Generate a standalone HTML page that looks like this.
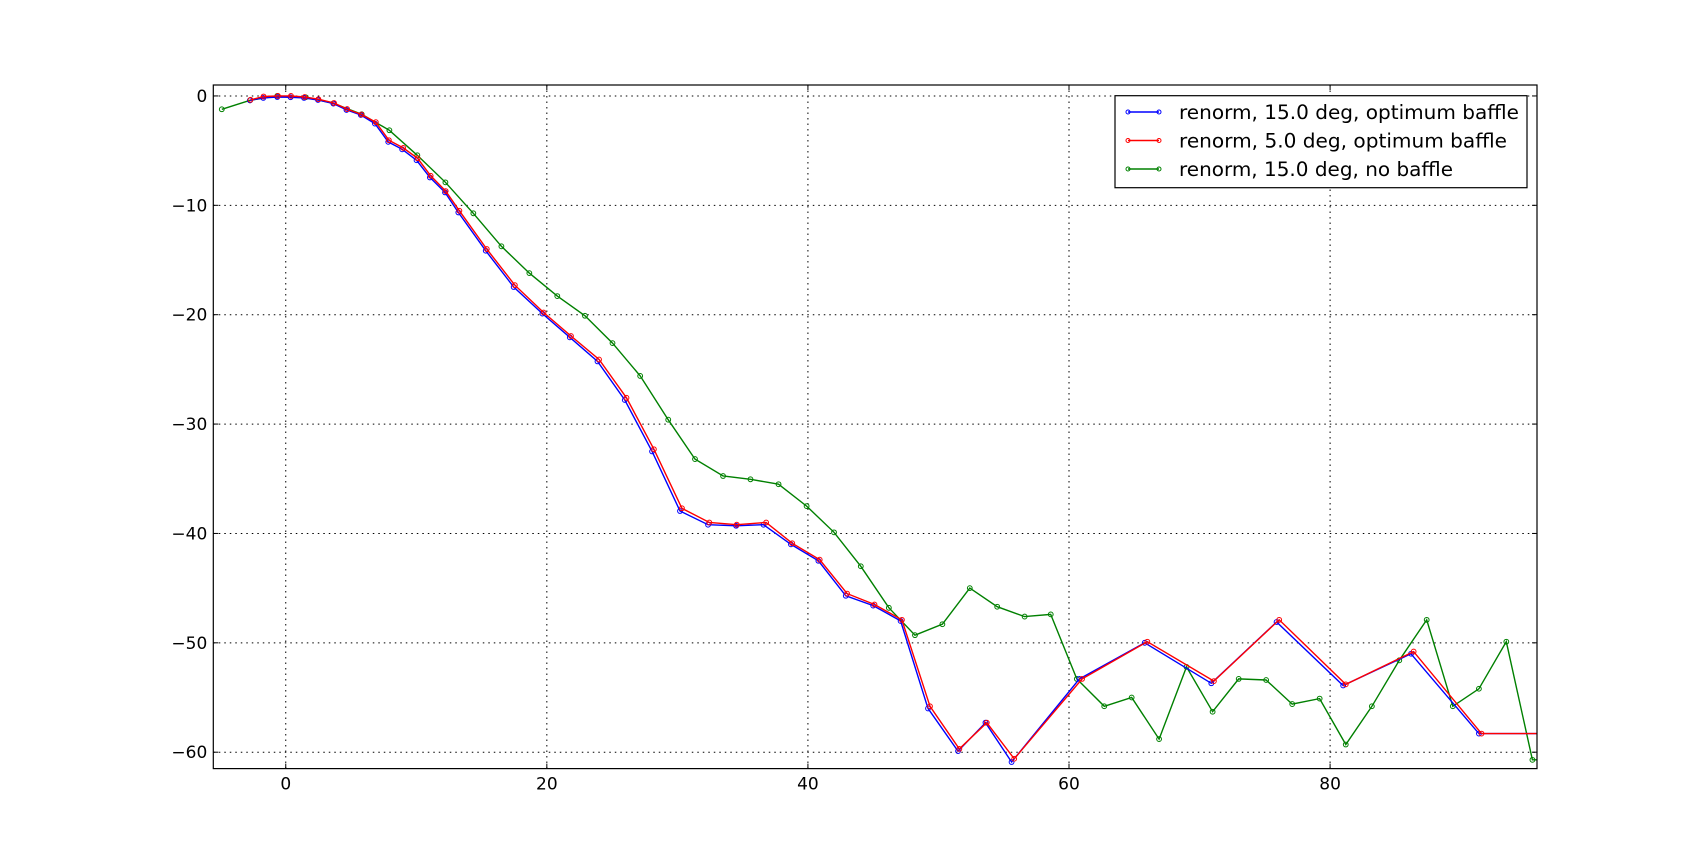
<!DOCTYPE html>
<html><head><meta charset="utf-8"><style>
html,body{margin:0;padding:0;background:#fff;}
svg{display:block;}
text{font-family:"DejaVu Sans","Liberation Sans",sans-serif;}
</style></head><body>
<svg id="chart" width="1707" height="853" viewBox="0 0 1707 853" xmlns="http://www.w3.org/2000/svg">
<rect width="1707" height="853" fill="#fff"/>
<g id="grid"></g>
<g id="series"></g>
<rect x="213.3" y="85" width="1323.7" height="683.6" fill="none" stroke="#000" stroke-width="1.2"/>
<g id="ticks"></g>
<g id="legend"></g>
</svg>
<script>
const xTicks = [0, 20, 40, 60, 80];
const yTicks = [0, -10, -20, -30, -40, -50, -60];
const seriesNames = ["renorm, 15.0 deg, optimum baffle", "renorm, 5.0 deg, optimum baffle", "renorm, 15.0 deg, no baffle"];
const blueX = [-2.74,-1.72,-0.65,0.37,1.4,2.47,3.65,4.65,5.75,6.83,7.85,8.92,10.02,11.04,12.2,13.22,15.32,17.46,19.66,21.76,23.88,25.97,28.06,30.2,32.35,34.5,36.6,38.7,40.8,42.9,45.0,47.1,49.2,51.5,53.6,55.6,60.8,65.8,70.9,75.9,81.0,86.2,91.4,97];
const blueY = [-0.4,-0.18,-0.1,-0.12,-0.18,-0.37,-0.7,-1.28,-1.74,-2.53,-4.2,-4.88,-5.88,-7.45,-8.82,-10.65,-14.15,-17.47,-19.9,-22.07,-24.27,-27.8,-32.5,-37.95,-39.2,-39.3,-39.2,-41.0,-42.5,-45.7,-46.6,-48.0,-56.0,-59.9,-57.3,-60.9,-53.3,-50.0,-53.7,-48.1,-53.9,-51.0,-58.3,-58.3];
const redX = [-2.7,-1.7,-0.6,0.4,1.45,2.5,3.7,4.7,5.8,6.9,7.9,9.0,10.1,11.1,12.25,13.3,15.4,17.55,19.75,21.85,24.0,26.1,28.2,30.35,32.45,34.55,36.8,38.8,40.9,43.0,45.1,47.2,49.35,51.6,53.7,55.8,61.0,66.0,71.1,76.1,81.2,86.4,91.6,97];
const redY = [-0.35,-0.05,0,0,-0.1,-0.3,-0.65,-1.2,-1.7,-2.4,-4.05,-4.75,-5.7,-7.3,-8.7,-10.5,-14.0,-17.3,-19.8,-21.95,-24.1,-27.6,-32.3,-37.7,-39.0,-39.2,-39.0,-40.9,-42.4,-45.5,-46.5,-47.9,-55.8,-59.7,-57.3,-60.6,-53.3,-49.9,-53.5,-47.9,-53.8,-50.8,-58.3,-58.3];
const greenX = [-4.9,-2.74,-0.65,1.53,3.65,5.82,7.94,10.08,12.23,14.37,16.52,18.66,20.8,22.92,25.03,27.15,29.3,31.35,33.5,35.6,37.75,39.9,42.0,44.05,46.2,48.2,50.3,52.4,54.5,56.6,58.6,60.6,62.7,64.8,66.9,69.0,71.0,73.0,75.1,77.1,79.2,81.2,83.2,85.3,87.4,89.4,91.4,93.5,95.5,97];
const greenY = [-1.22,-0.4,0,-0.12,-0.67,-1.68,-3.14,-5.43,-7.9,-10.73,-13.75,-16.2,-18.3,-20.1,-22.6,-25.6,-29.6,-33.2,-34.75,-35.05,-35.5,-37.5,-39.9,-43.0,-46.8,-49.3,-48.3,-45.0,-46.7,-47.6,-47.4,-53.3,-55.8,-55.0,-58.8,-52.2,-56.3,-53.3,-53.4,-55.6,-55.1,-59.3,-55.8,-51.6,-47.9,-55.8,-54.2,-49.9,-60.7,-60.7];

const L=213.3, R=1537, T=85, B=768.6;
const xMin=-5.55, xMax=95.85, yMin=-61.5, yMax=1.0;
const NS="http://www.w3.org/2000/svg";
function sx(v){return L+(v-xMin)/(xMax-xMin)*(R-L);}
function sy(v){return B-(v-yMin)/(yMax-yMin)*(B-T);}
function mk(tag, attrs, parent){const e=document.createElementNS(NS,tag);for(const k in attrs)e.setAttribute(k,attrs[k]);parent.appendChild(e);return e;}
const grid=document.getElementById('grid'), ticks=document.getElementById('ticks'), ser=document.getElementById('series'), leg=document.getElementById('legend');

xTicks.forEach(t=>{
  const x=sx(t);
  const g=mk('line',{x1:x,x2:x,y1:T,y2:B,stroke:'#000','stroke-width':1,'stroke-dasharray':'1.5,4'},grid);
  
  
  mk('line',{x1:x,x2:x,y1:B,y2:B-5,stroke:'#000','stroke-width':1},ticks);
  mk('line',{x1:x,x2:x,y1:T,y2:T+5,stroke:'#000','stroke-width':1},ticks);
  const tx=mk('text',{x:x,y:B+21,'font-size':17,'text-anchor':'middle'},ticks);
  tx.textContent=t;
  
  
});
yTicks.forEach(t=>{
  const y=sy(t);
  const g=mk('line',{x1:L,x2:R,y1:y,y2:y,stroke:'#000','stroke-width':1,'stroke-dasharray':'1.5,4'},grid);
  
  
  mk('line',{x1:L,x2:L+5,y1:y,y2:y,stroke:'#000','stroke-width':1},ticks);
  mk('line',{x1:R,x2:R-5,y1:y,y2:y,stroke:'#000','stroke-width':1},ticks);
  const tx=mk('text',{x:L-6,y:y+6,'font-size':17,'text-anchor':'end'},ticks);
  tx.textContent=(t<0?'\u2212'+(-t):t);
  
  
});

const clip=mk('clipPath',{id:'pc'},document.getElementById('chart'));
mk('rect',{x:L,y:T,width:R-L,height:B-T},clip);
ser.setAttribute('clip-path','url(#pc)');

function drawSeries(xs, ys, color, name){
  const g=mk('g',{},ser);
  
  
  const pts=xs.map((x,i)=>sx(x).toFixed(1)+','+sy(ys[i]).toFixed(1)).join(' ');
  mk('polyline',{points:pts,fill:'none',stroke:color,'stroke-width':1.4},g);
  xs.forEach((x,i)=>{
    const c=mk('circle',{cx:sx(x),cy:sy(ys[i]),r:2.4,fill:'none',stroke:color,'stroke-width':1},g);
    
    
  });
}
drawSeries(greenX, greenY, '#008000', 'series-no-baffle');
drawSeries(blueX, blueY, '#0000ff', 'series-15deg-optimum');
drawSeries(redX, redY, '#ff0000', 'series-5deg-optimum');

mk('rect',{x:1115,y:95.7,width:412,height:92,fill:'#fff',stroke:'#000','stroke-width':1.2},leg);
const colors=['#0000ff','#ff0000','#008000'];
const rowsY=[112,140.5,169];
const textLens=[340,328,274];
seriesNames.forEach((n,i)=>{
  const g=mk('g',{},leg);
  
  
  mk('line',{x1:1128,x2:1159,y1:rowsY[i],y2:rowsY[i],stroke:colors[i],'stroke-width':1.4},g);
  mk('circle',{cx:1128,cy:rowsY[i],r:2,fill:'none',stroke:colors[i]},g);
  mk('circle',{cx:1159,cy:rowsY[i],r:2,fill:'none',stroke:colors[i]},g);
  const t=mk('text',{x:1179,y:rowsY[i]+7,'font-size':19.5,textLength:textLens[i],lengthAdjust:'spacingAndGlyphs'},g);
  t.textContent=n;
});
</script>
</body></html>
